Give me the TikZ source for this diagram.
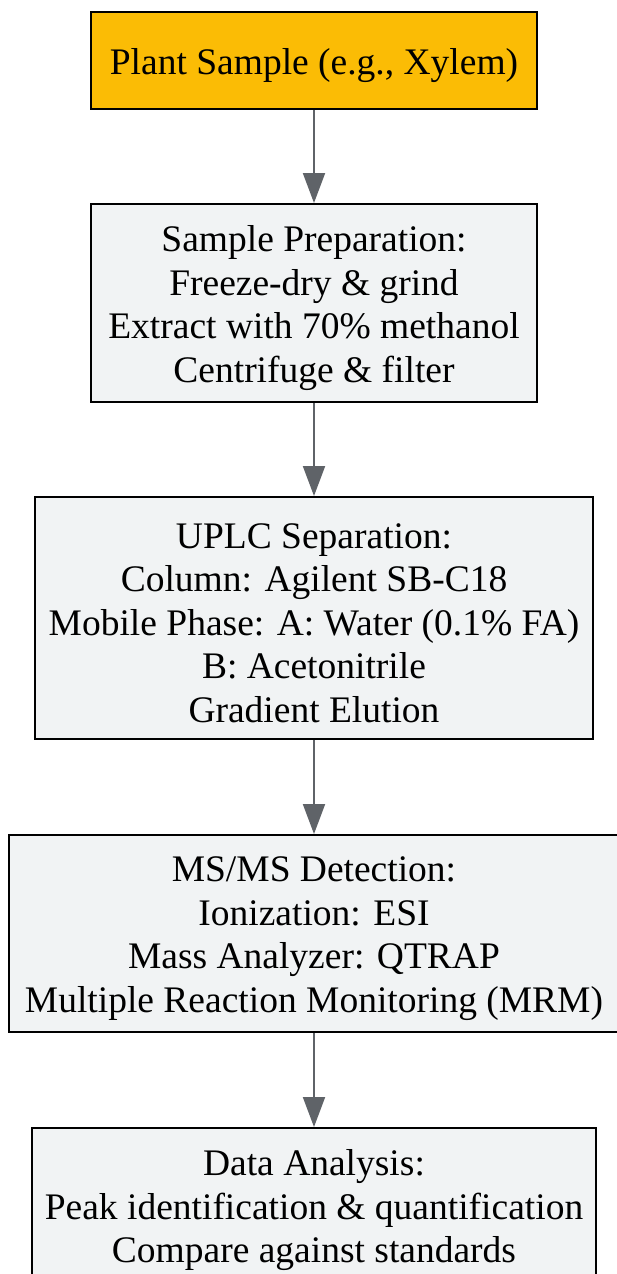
\documentclass[tikz,border=0pt]{standalone}
\usepackage{fontspec}
\setmainfont{Liberation Serif}
\usetikzlibrary{arrows.meta}
\definecolor{amber}{HTML}{FBBC05}
\definecolor{boxgray}{HTML}{F1F3F4}
\definecolor{arrowgray}{HTML}{5F6368}
\begin{document}
\begin{tikzpicture}[x=1pt,y=-1pt,
  stepbox/.style={draw=black, line width=2pt, fill=boxgray, inner sep=0pt},
  boxtext/.style={align=center, inner sep=0pt, font=\fontsize{37.5}{43.5}\selectfont},
  flow/.style={draw=arrowgray, line width=2pt, -{Triangle[length=30pt,width=22pt]}}]
\useasboundingbox (0,0) rectangle (616,1274);
\node[stepbox, fill=amber, minimum width=446pt, minimum height=97pt] (plant) at (314,60.5) {};
\node[boxtext] (plantt) at ([yshift=-5pt]plant.center) {Plant Sample (e.g., Xylem)};
\node[stepbox, minimum width=446pt, minimum height=198pt] (prep) at (314,303) {};
\node[boxtext] (prept) at ([yshift=-5pt]prep.center)
  {Sample Preparation:\\Freeze-dry \& grind\\Extract with 70\% methanol\\Centrifuge \& filter};
\node[stepbox, minimum width=558pt, minimum height=242pt] (uplc) at (314,618) {};
\node[boxtext] (uplct) at ([yshift=-5pt]uplc.center)
  {UPLC Separation:\\Column: Agilent SB-C18\\Mobile Phase: A: Water (0.1\% FA)\\B: Acetonitrile\\Gradient Elution};
\node[stepbox, minimum width=610pt, minimum height=197pt] (ms) at (314,933.5) {};
\node[boxtext] (mst) at ([yshift=-5pt]ms.center)
  {MS/MS Detection:\\Ionization: ESI\\Mass Analyzer: QTRAP\\Multiple Reaction Monitoring (MRM)};
\node[stepbox, minimum width=564pt, minimum height=155pt] (data) at (314,1205.5) {};
\node[boxtext] (datat) at ([yshift=-5pt]data.center)
  {Data Analysis:\\Peak identification \& quantification\\Compare against standards};
\draw[flow] (plant.south) -- (prep.north);
\draw[flow] (prep.south) -- (uplc.north);
\draw[flow] (uplc.south) -- (ms.north);
\draw[flow] (ms.south) -- (data.north);
\end{tikzpicture}
\end{document}
